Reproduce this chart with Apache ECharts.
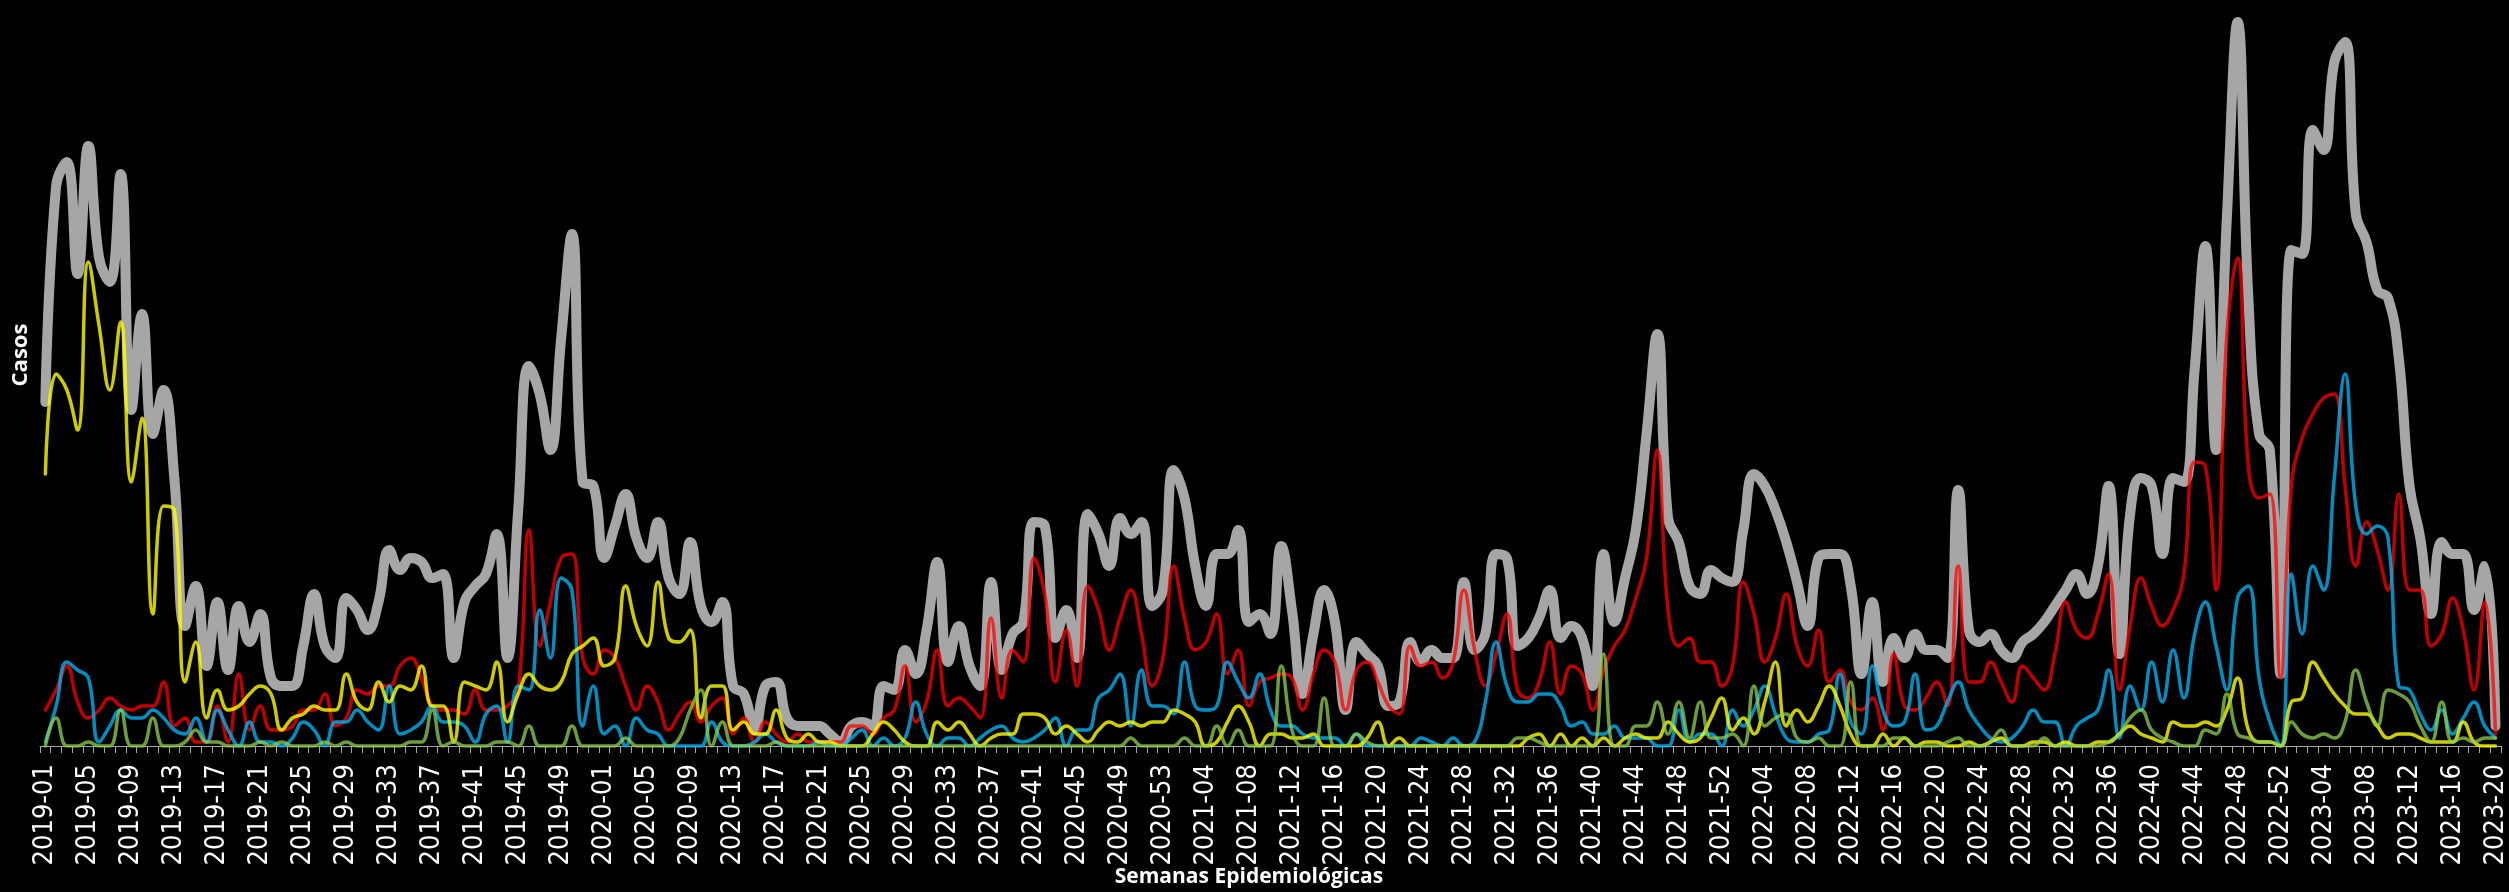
<!DOCTYPE html>
<html>
<head>
<meta charset="utf-8">
<title>Casos por semana epidemiológica</title>
<script src="https://cdn.jsdelivr.net/npm/echarts@6/dist/echarts.min.js"></script>
<style>
    html, body { margin: 0; padding: 0; background: #000; }
    #chart { width: 2509px; height: 892px; }
</style>
</head>
<body>
<div id="chart"></div>
<script>
// Weeks per year shown on the axis (2019-01 .. 2023-20)
const years = [2019, 2020, 2021, 2022, 2023];
const weeksInYear = [52, 53, 52, 52, 20];

// Build category labels like "2019-01"
const weeks = [];
years.forEach(function (y, k) {
    for (let w = 1; w <= weeksInYear[k]; w++) {
        weeks.push(y + '-' + String(w).padStart(2, '0'));
    }
});

// Series values (cases per week)
const total = [
    86, 140, 146, 118, 150, 122, 116, 143, 84, 108, 78, 89, 67, 30, 40, 20, 36, 19, 35, 26,
    33, 17, 15, 15, 25, 38, 25, 22, 37, 34, 29, 36, 49, 44, 47, 46, 42, 43, 22, 36,
    40, 43, 53, 22, 59, 95, 88, 74, 102, 128, 66, 65, 47, 55, 63, 52, 47, 56, 42, 38,
    51, 35, 31, 36, 15, 13, 4, 15, 16, 7, 5, 5, 5, 3, 1, 5, 6, 5, 15, 14,
    24, 18, 29, 46, 21, 30, 20, 15, 41, 19, 28, 31, 56, 55, 27, 34, 22, 58, 53, 45,
    57, 53, 56, 35, 39, 69, 62, 45, 35, 48, 48, 54, 31, 33, 28, 50, 34, 13, 28, 39,
    31, 9, 26, 23, 20, 10, 11, 26, 21, 24, 22, 22, 41, 24, 28, 48, 47, 25, 27, 32,
    39, 27, 30, 27, 15, 48, 31, 42, 54, 78, 103, 57, 51, 40, 38, 44, 42, 41, 54, 68,
    65, 59, 51, 41, 30, 47, 48, 48, 40, 18, 36, 16, 27, 22, 28, 24, 24, 22, 64, 29,
    26, 28, 24, 22, 26, 28, 31, 35, 39, 43, 38, 45, 65, 23, 58, 67, 65, 48, 67, 66,
    94, 125, 74, 132, 181, 112, 78, 74, 18, 124, 123, 154, 149, 171, 176, 133, 126, 114, 112, 97,
    65, 52, 33, 51, 48, 48, 34, 45, 5
];
const serieRoja = [
    9, 14, 20, 11, 7, 9, 12, 10, 9, 10, 10, 16, 5, 7, 1, 1, 10, 1, 18, 4,
    10, 4, 4, 5, 9, 9, 13, 5, 7, 14, 13, 15, 15, 20, 22, 17, 10, 9, 9, 8,
    14, 9, 9, 10, 14, 54, 25, 36, 47, 48, 22, 18, 24, 22, 15, 9, 15, 11, 4, 8,
    11, 6, 10, 12, 3, 7, 1, 6, 3, 1, 3, 1, 1, 1, 1, 5, 5, 3, 7, 9,
    20, 6, 11, 24, 10, 12, 10, 7, 32, 12, 24, 21, 47, 38, 16, 29, 15, 40, 34, 24,
    32, 39, 28, 15, 22, 45, 32, 24, 26, 33, 18, 24, 10, 16, 17, 18, 17, 9, 18, 24,
    21, 9, 19, 21, 16, 10, 8, 25, 20, 21, 17, 21, 39, 24, 15, 23, 33, 14, 12, 16,
    26, 13, 20, 18, 9, 19, 25, 29, 37, 47, 74, 34, 25, 27, 21, 21, 15, 20, 41, 33,
    21, 27, 38, 25, 20, 29, 16, 19, 11, 9, 12, 4, 23, 10, 9, 12, 16, 10, 45, 16,
    16, 21, 16, 11, 20, 17, 14, 23, 36, 29, 27, 33, 43, 14, 30, 42, 35, 30, 34, 43,
    71, 70, 39, 103, 122, 70, 62, 63, 17, 65, 77, 83, 87, 88, 65, 45, 56, 49, 39, 63,
    39, 39, 25, 28, 37, 29, 14, 36, 3
];
const serieAzul = [
    1, 10, 21, 19, 17, 1, 5, 9, 7, 7, 9, 7, 4, 3, 7, 1, 9, 4, 0, 6,
    1, 1, 0, 2, 6, 4, 0, 6, 6, 9, 6, 4, 15, 3, 4, 6, 10, 6, 6, 5,
    1, 8, 10, 1, 15, 14, 34, 22, 42, 39, 5, 15, 3, 5, 0, 7, 4, 3, 0, 0,
    0, 0, 6, 1, 0, 0, 1, 3, 1, 0, 0, 0, 1, 0, 0, 2, 4, 0, 2, 0,
    2, 11, 3, 0, 2, 2, 0, 2, 4, 5, 2, 1, 2, 4, 7, 0, 4, 4, 12, 14,
    18, 5, 19, 10, 10, 8, 21, 10, 9, 10, 21, 16, 12, 18, 9, 5, 5, 3, 2, 2,
    2, 0, 3, 0, 0, 0, 0, 0, 2, 1, 0, 2, 0, 1, 11, 26, 15, 11, 11, 13,
    13, 10, 5, 6, 3, 3, 5, 2, 2, 2, 0, 0, 9, 1, 3, 3, 0, 9, 5, 9,
    15, 8, 2, 1, 1, 3, 4, 18, 6, 3, 20, 9, 5, 6, 18, 4, 5, 11, 16, 9,
    5, 2, 1, 2, 5, 9, 6, 6, 0, 5, 7, 9, 19, 2, 15, 9, 21, 11, 24, 12,
    28, 36, 25, 14, 37, 40, 17, 6, 0, 43, 28, 45, 39, 67, 93, 60, 53, 55, 52, 15,
    14, 8, 4, 9, 3, 7, 11, 5, 2
];
const serieAmarilla = [
    68, 93, 89, 79, 121, 105, 89, 106, 66, 82, 33, 60, 59, 16, 26, 7, 14, 9, 10, 13,
    15, 13, 4, 7, 8, 10, 9, 9, 18, 11, 9, 16, 11, 15, 14, 20, 10, 10, 1, 16,
    15, 14, 21, 6, 13, 18, 15, 14, 16, 23, 25, 27, 20, 22, 40, 30, 25, 41, 27, 26,
    29, 7, 15, 15, 4, 6, 3, 3, 9, 2, 1, 3, 1, 1, 0, 0, 0, 3, 6, 4,
    1, 0, 0, 6, 4, 6, 3, 0, 2, 3, 3, 8, 8, 7, 3, 5, 3, 1, 4, 6,
    5, 6, 5, 6, 6, 9, 8, 6, 0, 1, 6, 10, 6, 0, 3, 3, 2, 2, 3, 0,
    0, 0, 0, 2, 6, 0, 2, 0, 0, 0, 0, 0, 0, 0, 0, 0, 0, 0, 2, 3,
    0, 3, 0, 2, 0, 2, 0, 2, 3, 2, 2, 6, 3, 1, 2, 7, 12, 4, 7, 3,
    11, 21, 5, 9, 6, 10, 15, 10, 3, 0, 0, 3, 0, 2, 0, 1, 1, 0, 0, 1,
    0, 1, 2, 0, 0, 1, 1, 0, 1, 0, 0, 1, 1, 3, 5, 3, 2, 1, 6, 5,
    5, 6, 5, 9, 17, 4, 1, 1, 0, 11, 12, 21, 17, 13, 10, 8, 8, 5, 2, 3,
    3, 2, 1, 1, 1, 6, 1, 0, 0
];
const serieVerde = [
    0, 7, 0, 0, 1, 0, 0, 9, 0, 0, 7, 0, 0, 1, 4, 1, 1, 0, 0, 0,
    1, 0, 1, 0, 0, 0, 1, 0, 1, 0, 0, 0, 0, 0, 1, 1, 9, 0, 1, 0,
    0, 0, 1, 1, 0, 5, 0, 0, 0, 5, 0, 0, 0, 0, 2, 0, 0, 0, 0, 2,
    9, 14, 0, 6, 0, 0, 0, 0, 1, 0, 0, 0, 0, 0, 0, 0, 0, 0, 0, 0,
    0, 0, 0, 0, 0, 0, 0, 0, 0, 0, 0, 0, 0, 0, 0, 0, 0, 0, 0, 0,
    0, 2, 0, 0, 0, 0, 2, 0, 0, 5, 0, 4, 0, 0, 0, 20, 4, 0, 0, 12,
    0, 0, 3, 1, 0, 0, 0, 0, 0, 0, 0, 0, 0, 0, 0, 0, 0, 2, 2, 1,
    0, 0, 0, 0, 0, 23, 0, 0, 5, 5, 11, 3, 11, 2, 11, 2, 2, 3, 0, 15,
    5, 7, 8, 2, 1, 2, 0, 0, 16, 0, 0, 0, 2, 2, 0, 0, 0, 1, 2, 0,
    0, 1, 4, 0, 0, 0, 2, 0, 0, 0, 0, 0, 1, 3, 7, 9, 4, 2, 1, 0,
    0, 4, 3, 13, 3, 2, 1, 1, 0, 6, 3, 2, 3, 2, 6, 19, 11, 5, 14, 13,
    11, 5, 1, 11, 1, 2, 1, 2, 2
];

const chart = echarts.init(document.getElementById('chart'));

function lineSeries(name, data, color, width) {
    return {
        name: name,
        type: 'line',
        data: data,
        smooth: 0.45,
        showSymbol: false,
        symbol: 'none',
        lineStyle: { color: color, width: width, cap: 'round', join: 'round' },
        itemStyle: { color: color },
        animation: false
    };
}

const option = {
    backgroundColor: '#000000',
    animation: false,
    grid: {
        left: 40,
        right: 7,
        top: 14,
        bottom: 146
    },
    xAxis: {
        type: 'category',
        data: weeks,
        boundaryGap: true,
        axisLine: { show: true, lineStyle: { color: '#A6A6A6', width: 1 } },
        axisTick: {
            show: true,
            interval: 0,
            length: 7,
            lineStyle: { color: '#A6A6A6', width: 1 }
        },
        axisLabel: {
            interval: 3,
            rotate: 90,
            margin: 18,
            color: '#FFFFFF',
            fontSize: 27,
            fontFamily: '"Liberation Sans Narrow", "DejaVu Sans Condensed", sans-serif'
        },
        splitLine: { show: false }
    },
    yAxis: {
        type: 'value',
        min: 0,
        max: 183,
        axisLine: { show: false },
        axisTick: { show: false },
        axisLabel: { show: false },
        splitLine: { show: false }
    },
    graphic: [
        {
            type: 'text',
            x: 1249,
            y: 877,
            style: {
                text: 'Semanas Epidemiológicas',
                fill: '#FFFFFF',
                font: 'bold 21px "Open Sans", sans-serif',
                align: 'center',
                verticalAlign: 'middle'
            }
        },
        {
            type: 'text',
            x: 21,
            y: 355,
            rotation: Math.PI / 2,
            style: {
                text: 'Casos',
                fill: '#FFFFFF',
                font: 'bold 22px "Open Sans", sans-serif',
                align: 'center',
                verticalAlign: 'middle'
            }
        }
    ],
    series: [
        lineSeries('Total', total, '#A6A6A6', 10),
        lineSeries('Serie roja', serieRoja, 'rgba(255, 0, 0, 0.75)', 3.5),
        lineSeries('Serie azul', serieAzul, 'rgba(0, 176, 240, 0.8)', 3.5),
        lineSeries('Serie amarilla', serieAmarilla, 'rgba(255, 255, 0, 0.8)', 3.5),
        lineSeries('Serie verde', serieVerde, 'rgba(146, 208, 80, 0.75)', 3.5)
    ]
};

chart.setOption(option);
</script>
</body>
</html>
